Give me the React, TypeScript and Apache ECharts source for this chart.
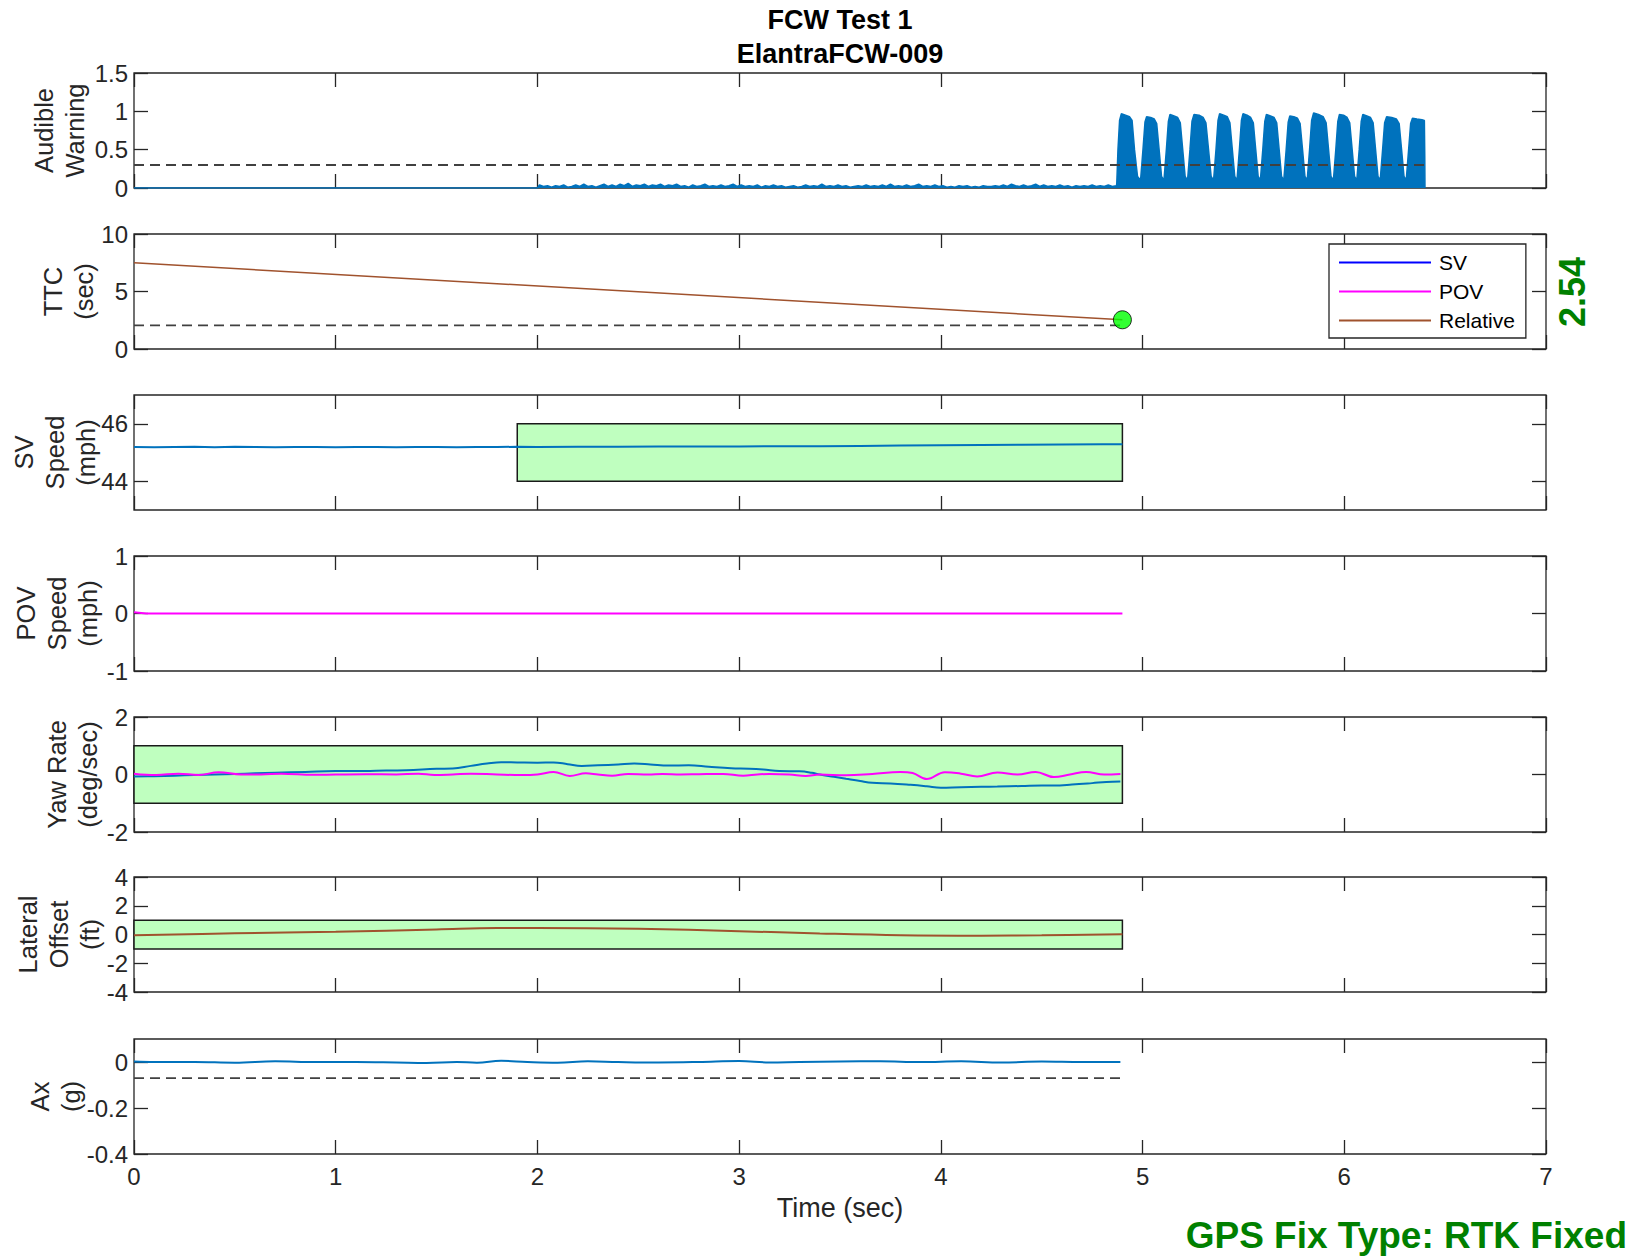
import React, { useEffect, useRef } from "react";
import * as echarts from "echarts";

// ---------------- DATA ----------------
const timeTicks = [0, 1, 2, 3, 4, 5, 6, 7];

// Audible warning (envelope of the recorded signal)
const awQuiet: number[][] = [[0, 0], [1.99, 0]];
const awNoise: number[][] = [
  [2.0, 0.0], [2.01, 0.04], [2.03, 0.02], [2.05, 0.03], [2.07, 0.01], [2.09, 0.03], [2.11, 0.02], [2.13, 0.04],
  [2.15, 0.01], [2.17, 0.02], [2.19, 0.04], [2.21, 0.02], [2.23, 0.05], [2.25, 0.02], [2.27, 0.03], [2.29, 0.01],
  [2.31, 0.03], [2.33, 0.05], [2.35, 0.02], [2.37, 0.04], [2.39, 0.02], [2.41, 0.05], [2.43, 0.03], [2.45, 0.06],
  [2.47, 0.02], [2.49, 0.04], [2.51, 0.03], [2.53, 0.05], [2.55, 0.02], [2.57, 0.04], [2.59, 0.03], [2.61, 0.05],
  [2.63, 0.02], [2.65, 0.04], [2.67, 0.03], [2.69, 0.05], [2.71, 0.02], [2.73, 0.03], [2.75, 0.01], [2.77, 0.04],
  [2.79, 0.02], [2.81, 0.03], [2.83, 0.05], [2.85, 0.02], [2.87, 0.03], [2.89, 0.02], [2.91, 0.04], [2.93, 0.02],
  [2.95, 0.03], [2.97, 0.05], [2.99, 0.02], [3.01, 0.04], [3.03, 0.02], [3.05, 0.03], [3.07, 0.02], [3.09, 0.04],
  [3.11, 0.01], [3.13, 0.03], [3.15, 0.02], [3.17, 0.04], [3.19, 0.02], [3.21, 0.03], [3.23, 0.01], [3.25, 0.02],
  [3.27, 0.03], [3.29, 0.01], [3.31, 0.02], [3.33, 0.04], [3.35, 0.02], [3.37, 0.03], [3.39, 0.02], [3.41, 0.05],
  [3.43, 0.02], [3.45, 0.03], [3.47, 0.02], [3.49, 0.04], [3.51, 0.02], [3.53, 0.03], [3.55, 0.01], [3.57, 0.02],
  [3.59, 0.03], [3.61, 0.02], [3.63, 0.04], [3.65, 0.02], [3.67, 0.03], [3.69, 0.02], [3.71, 0.04], [3.73, 0.02],
  [3.75, 0.05], [3.77, 0.02], [3.79, 0.03], [3.81, 0.02], [3.83, 0.04], [3.85, 0.02], [3.87, 0.03], [3.89, 0.05],
  [3.91, 0.02], [3.93, 0.03], [3.95, 0.02], [3.97, 0.04], [3.99, 0.02], [4.01, 0.03], [4.03, 0.01], [4.05, 0.02],
  [4.07, 0.01], [4.09, 0.03], [4.11, 0.02], [4.13, 0.03], [4.15, 0.01], [4.17, 0.02], [4.19, 0.01], [4.21, 0.03],
  [4.23, 0.02], [4.25, 0.02], [4.27, 0.03], [4.29, 0.02], [4.31, 0.04], [4.33, 0.02], [4.35, 0.05], [4.37, 0.03],
  [4.39, 0.02], [4.41, 0.04], [4.43, 0.02], [4.45, 0.03], [4.47, 0.05], [4.49, 0.02], [4.51, 0.04], [4.53, 0.02],
  [4.55, 0.03], [4.57, 0.02], [4.59, 0.04], [4.61, 0.02], [4.63, 0.03], [4.65, 0.01], [4.67, 0.03], [4.69, 0.02],
  [4.71, 0.03], [4.73, 0.02], [4.75, 0.04], [4.77, 0.02], [4.79, 0.03], [4.81, 0.02], [4.83, 0.04], [4.85, 0.02],
  [4.87, 0.03],
];
const awPulses: number[][] = [
  [4.872, 0.05], [4.878, 0.5], [4.886, 0.88], [4.895, 0.97], [4.915, 0.95], [4.935, 0.93], [4.948, 0.88], [4.96, 0.5], [4.975, 0.15], [4.99, 0.1],
  [5.002, 0.5], [5.012, 0.86], [5.02, 0.93], [5.04, 0.92], [5.058, 0.9], [5.07, 0.84], [5.082, 0.5], [5.094, 0.15], [5.106, 0.1],
  [5.118, 0.5], [5.128, 0.87], [5.136, 0.96], [5.156, 0.94], [5.174, 0.92], [5.187, 0.85], [5.199, 0.5], [5.211, 0.15], [5.223, 0.1],
  [5.235, 0.5], [5.245, 0.87], [5.255, 0.96], [5.28, 0.95], [5.3, 0.92], [5.314, 0.85], [5.327, 0.5], [5.34, 0.15], [5.352, 0.1],
  [5.364, 0.5], [5.374, 0.88], [5.382, 0.97], [5.402, 0.95], [5.42, 0.93], [5.433, 0.85], [5.445, 0.5], [5.457, 0.15], [5.468, 0.1],
  [5.48, 0.5], [5.49, 0.88], [5.498, 0.97], [5.518, 0.95], [5.536, 0.92], [5.549, 0.85], [5.561, 0.5], [5.573, 0.15], [5.584, 0.1],
  [5.596, 0.5], [5.606, 0.87], [5.614, 0.96], [5.634, 0.94], [5.652, 0.92], [5.665, 0.85], [5.677, 0.5], [5.689, 0.15], [5.7, 0.1],
  [5.712, 0.5], [5.722, 0.86], [5.73, 0.94], [5.75, 0.93], [5.768, 0.91], [5.781, 0.84], [5.793, 0.5], [5.805, 0.15], [5.816, 0.1],
  [5.828, 0.5], [5.838, 0.88], [5.848, 0.98], [5.872, 0.96], [5.895, 0.93], [5.91, 0.85], [5.922, 0.5], [5.934, 0.15], [5.946, 0.1],
  [5.958, 0.5], [5.968, 0.87], [5.976, 0.96], [5.996, 0.95], [6.014, 0.92], [6.027, 0.85], [6.039, 0.5], [6.051, 0.15], [6.062, 0.1],
  [6.074, 0.5], [6.084, 0.87], [6.092, 0.96], [6.112, 0.94], [6.13, 0.92], [6.143, 0.85], [6.155, 0.5], [6.167, 0.15], [6.178, 0.1],
  [6.19, 0.5], [6.2, 0.85], [6.21, 0.93], [6.235, 0.92], [6.258, 0.9], [6.272, 0.84], [6.284, 0.5], [6.296, 0.15], [6.307, 0.1],
  [6.319, 0.5], [6.329, 0.84], [6.338, 0.91], [6.36, 0.9], [6.385, 0.89], [6.397, 0.88], [6.399, 0.4], [6.4, 0],
];
const awThreshold: number[][] = [[0, 0.3], [6.4, 0.3]];

// TTC
const ttcRelative: number[][] = [[0, 7.5], [4.9, 2.54]];
const ttcThreshold: number[][] = [[0, 2.06], [4.9, 2.06]];
const ttcAtWarning: number[][] = [[4.9, 2.54]];
const ttcText = "2.54";
const legendNames = ["SV", "POV", "Relative"];

// SV speed (mph)
const svSpeed: number[][] = [
  [0, 45.19], [0.1, 45.18], [0.2, 45.19], [0.3, 45.2], [0.4, 45.18], [0.5, 45.2], [0.6, 45.19], [0.7, 45.18],
  [0.8, 45.19], [0.9, 45.19], [1.0, 45.18], [1.1, 45.19], [1.2, 45.19], [1.3, 45.18], [1.4, 45.19], [1.5, 45.19],
  [1.6, 45.18], [1.7, 45.19], [1.8, 45.19], [1.9, 45.2], [2.0, 45.19], [2.2, 45.2], [2.4, 45.2], [2.6, 45.21],
  [2.8, 45.21], [3.0, 45.21], [3.2, 45.22], [3.4, 45.22], [3.6, 45.23], [3.8, 45.24], [4.0, 45.25], [4.2, 45.26],
  [4.4, 45.27], [4.6, 45.28], [4.8, 45.29], [4.9, 45.29],
];
const svSpeedBox = [[1.9, 44], [4.9, 46]];

// POV speed (mph)
const povSpeed: number[][] = [[0, 0.02], [0.06, 0], [4.9, 0]];

// Yaw rate (deg/sec)
const yawSV: number[][] = [
  [0, -0.07], [0.1, -0.06], [0.2, -0.04], [0.3, -0.02], [0.4, 0.0], [0.5, 0.02], [0.6, 0.04], [0.7, 0.06],
  [0.85, 0.09], [1.0, 0.12], [1.1, 0.12], [1.2, 0.13], [1.35, 0.15], [1.5, 0.2], [1.58, 0.21], [1.67, 0.3],
  [1.75, 0.38], [1.82, 0.43], [1.9, 0.42], [2.0, 0.41], [2.08, 0.42], [2.15, 0.36], [2.22, 0.3], [2.3, 0.32],
  [2.4, 0.35], [2.48, 0.38], [2.56, 0.35], [2.65, 0.31], [2.75, 0.32], [2.85, 0.27], [2.96, 0.22], [3.05, 0.2],
  [3.12, 0.17], [3.2, 0.12], [3.3, 0.11], [3.36, 0.06], [3.4, 0.0], [3.47, -0.08], [3.53, -0.15], [3.6, -0.23],
  [3.66, -0.29], [3.75, -0.31], [3.85, -0.36], [3.93, -0.41], [4.0, -0.46], [4.1, -0.44], [4.2, -0.43],
  [4.28, -0.42], [4.4, -0.4], [4.5, -0.38], [4.56, -0.38], [4.65, -0.35], [4.75, -0.3], [4.82, -0.26], [4.89, -0.24],
];
const yawPOV: number[][] = [
  [0, 0.03], [0.11, -0.02], [0.22, 0.03], [0.32, -0.02], [0.42, 0.08], [0.53, 0.0], [0.63, 0.0], [0.73, 0.03],
  [0.89, -0.01], [1.0, 0.0], [1.15, 0.01], [1.3, 0.0], [1.41, 0.03], [1.49, -0.02], [1.58, 0.0], [1.67, 0.03],
  [1.8, 0.0], [1.92, -0.02], [2.0, 0.0], [2.08, 0.09], [2.16, -0.05], [2.24, 0.04], [2.3, 0.0], [2.37, -0.04],
  [2.45, 0.02], [2.55, 0.0], [2.62, 0.02], [2.71, 0.0], [2.8, 0.01], [2.92, 0.02], [3.02, -0.04], [3.09, 0.0],
  [3.15, 0.02], [3.25, 0.0], [3.33, -0.05], [3.4, 0.0], [3.53, -0.03], [3.66, 0.02], [3.8, 0.09], [3.86, 0.05],
  [3.93, -0.16], [4.02, 0.08], [4.1, 0.03], [4.18, -0.07], [4.28, 0.07], [4.38, 0.0], [4.47, 0.09], [4.56, -0.09],
  [4.64, 0.0], [4.72, 0.09], [4.81, 0.0], [4.89, 0.02],
];
const yawBox = [[0, -1], [4.9, 1]];

// Lateral offset (ft)
const lateralOffset: number[][] = [
  [0, -0.05], [0.5, 0.08], [1.0, 0.19], [1.5, 0.35], [1.8, 0.45], [2.0, 0.46], [2.5, 0.4], [3.0, 0.23],
  [3.4, 0.07], [3.8, -0.05], [4.2, -0.08], [4.5, -0.06], [4.9, 0.02],
];
const lateralBox = [[0, -1], [4.9, 1]];

// Ax (g)
const axData: number[][] = [
  [0, 0.002], [0.1, 0.0], [0.3, 0.0], [0.5, -0.003], [0.7, 0.003], [0.9, 0.0], [1.1, 0.0], [1.3, -0.002],
  [1.45, -0.004], [1.6, 0.0], [1.7, -0.003], [1.82, 0.005], [1.95, 0.0], [2.1, -0.003], [2.25, 0.003], [2.4, 0.0],
  [2.6, -0.002], [2.8, 0.0], [3.0, 0.004], [3.15, -0.002], [3.3, 0.0], [3.5, 0.002], [3.7, 0.003], [3.9, 0.0],
  [4.1, 0.003], [4.3, -0.002], [4.5, 0.002], [4.7, 0.0], [4.89, 0.0],
];
const axThreshold: number[][] = [[0, -0.07], [4.89, -0.07]];

// Y-axis definitions
const yNames = ["Audible\nWarning", "TTC\n(sec)", "SV\nSpeed\n(mph)", "POV\nSpeed\n(mph)", "Yaw Rate\n(deg/sec)", "Lateral\nOffset\n(ft)", "Ax\n(g)"];
const yMins = [0, 0, 43, -1, -2, -4, -0.4];
const yMaxs = [1.5, 10, 47, 1, 2, 4, 0.1];
const yTicks = [[0, 0.5, 1, 1.5], [0, 5, 10], [44, 46], [-1, 0, 1], [-2, 0, 2], [-4, -2, 0, 2, 4], [-0.4, -0.2, 0]];

const titleText = "FCW Test 1\nElantraFCW-009";
const xName = "Time (sec)";
const gpsText = "GPS Fix Type: RTK Fixed";

// ---------------- LAYOUT / STYLE ----------------
const W = 1637;
const H = 1259;
const gridTops = [73, 234, 395, 556, 717, 877, 1039];
const gridLeft = 134;
const gridWidth = 1412;
const gridHeight = 115;
const nameGaps = [44, 35, 33, 31, 31, 29, 48];
const FONT = '"Liberation Sans", Arial, Helvetica, sans-serif';
const AX = "#262626";
const BLUE = "#0072BD";
const MAGENTA = "#ff00ff";
const BROWN = "#a0522d";
const BOXFILL = "#bfffbf";
const DASH = "#404040";

function buildOption() {
  const grid: any[] = [];
  const xAxis: any[] = [];
  const yAxis: any[] = [];
  const tick = { show: true, inside: true, length: 14, lineStyle: { color: AX, width: 1.3 } };
  const noLine = { show: false, onZero: false };
  for (let i = 0; i < 7; i++) {
    grid.push({
      left: gridLeft, top: gridTops[i], width: gridWidth, height: gridHeight, show: true,
      borderColor: AX, borderWidth: 1.3, backgroundColor: "rgba(0,0,0,0)",
      containLabel: false, outerBoundsMode: "none",
    });
    const last = i === 6;
    xAxis.push({
      type: "value", gridIndex: i, min: timeTicks[0], max: timeTicks[timeTicks.length - 1], interval: 1, position: "bottom",
      axisLine: noLine, axisTick: tick, splitLine: { show: false },
      axisLabel: { show: last, margin: 10, color: AX, fontSize: 24, fontFamily: FONT },
      name: last ? xName : "", nameLocation: "middle", nameGap: 40, nameMoveOverlap: false,
      nameTextStyle: { color: AX, fontSize: 27, fontFamily: FONT },
    });
    xAxis.push({
      type: "value", gridIndex: i, min: timeTicks[0], max: timeTicks[timeTicks.length - 1], interval: 1, position: "top",
      axisLine: noLine, axisTick: tick, splitLine: { show: false }, axisLabel: { show: false },
    });
    yAxis.push({
      type: "value", gridIndex: i, min: yMins[i], max: yMaxs[i], position: "left",
      axisLine: noLine, splitLine: { show: false },
      axisTick: { ...tick, customValues: yTicks[i] },
      axisLabel: { customValues: yTicks[i], margin: 6, color: AX, fontSize: 24, fontFamily: FONT, formatter: (v: number) => String(v) },
      name: yNames[i], nameLocation: "middle", nameRotate: 90, nameGap: nameGaps[i], nameMoveOverlap: false,
      nameTextStyle: { color: AX, fontSize: 25.5, lineHeight: 31, fontFamily: FONT, align: "center" },
    });
    yAxis.push({
      type: "value", gridIndex: i, min: yMins[i], max: yMaxs[i], position: "right",
      axisLine: noLine, splitLine: { show: false },
      axisTick: { ...tick, customValues: yTicks[i] },
      axisLabel: { show: false },
    });
  }

  const ax = (i: number) => ({ xAxisIndex: 2 * i, yAxisIndex: 2 * i });
  const line = (name: string, i: number, data: number[][], color: string, extra: any = {}) => ({
    type: "line", name, ...ax(i), data, showSymbol: false, symbol: "none", color,
    lineStyle: { color, width: 2 }, silent: true, z: 3, ...extra,
  });
  const dashed = (name: string, i: number, data: number[][]) => ({
    type: "line", name, ...ax(i), data, showSymbol: false, symbol: "none", color: DASH,
    lineStyle: { color: DASH, width: 1.8, type: [10, 6] }, silent: true, z: 4,
  });
  const box = (b: number[][]) => ({
    silent: true,
    label: { show: false },
    itemStyle: { color: BOXFILL, borderColor: "#1a1a1a", borderWidth: 1.5 },
    data: [[{ coord: b[0] }, { coord: b[1] }]],
  });

  const audible = [...awQuiet, ...awNoise, ...awPulses];

  const series: any[] = [
    line("Audible Warning", 0, audible, BLUE, { lineStyle: { color: BLUE, width: 1.5 }, areaStyle: { color: BLUE, opacity: 1 } }),
    dashed("Warning Threshold", 0, awThreshold),
    line(legendNames[0], 1, [], "#0000ff"),
    line(legendNames[1], 1, [], MAGENTA),
    line(legendNames[2], 1, ttcRelative, BROWN, { lineStyle: { color: BROWN, width: 1.5 } }),
    dashed("TTC Threshold", 1, ttcThreshold),
    {
      type: "scatter", name: "TTC at Warning", ...ax(1), data: ttcAtWarning, symbol: "circle", symbolSize: 18,
      itemStyle: { color: "#00ff00", borderColor: "#000", borderWidth: 1 }, z: 6, silent: true,
    },
    line("SV Speed", 2, svSpeed, BLUE, { markArea: box(svSpeedBox) }),
    line("POV Speed", 3, povSpeed, MAGENTA),
    line("SV Yaw Rate", 4, yawSV, BLUE, { smooth: 0.4, markArea: box(yawBox) }),
    line("POV Yaw Rate", 4, yawPOV, MAGENTA, { smooth: 0.4 }),
    line("Lateral Offset", 5, lateralOffset, BROWN, { smooth: 0.4, markArea: box(lateralBox) }),
    line("Ax", 6, axData, BLUE, { smooth: 0.4 }),
    dashed("Ax Threshold", 6, axThreshold),
  ];

  return {
    animation: false,
    backgroundColor: "#ffffff",
    title: {
      text: titleText, left: 840, top: 3, textAlign: "center", padding: 0,
      textStyle: { color: "#000", fontSize: 27, fontWeight: "bold", lineHeight: 34, fontFamily: FONT },
    },
    legend: {
      data: legendNames, orient: "vertical", left: 1329, top: 244,
      padding: [8, 11, 7, 10], itemGap: 8, itemWidth: 92, itemHeight: 2, icon: "rect",
      borderColor: AX, borderWidth: 1.3, backgroundColor: "#fff",
      textStyle: { color: "#000", fontSize: 21, fontFamily: FONT, padding: [0, 0, 0, 3] },
      selectedMode: false,
    },
    grid, xAxis, yAxis, series,
    graphic: [
      {
        type: "text", x: 1572, y: 292, rotation: Math.PI / 2, silent: true,
        style: { text: ttcText, fill: "#008000", fontSize: 36, fontWeight: "bold", fontFamily: FONT, align: "center", verticalAlign: "middle" },
      },
      {
        type: "text", x: 1627, y: 1235, silent: true,
        style: { text: gpsText, fill: "#008000", fontSize: 37, fontWeight: "bold", fontFamily: FONT, align: "right", verticalAlign: "middle" },
      },
    ],
  };
}

export default function App() {
  const ref = useRef<HTMLDivElement>(null);
  useEffect(() => {
    document.body.style.margin = "0";
    if (!ref.current) return;
    const chart = echarts.init(ref.current, null, { renderer: "svg" });
    chart.setOption(buildOption() as any);
    return () => chart.dispose();
  }, []);
  return <div ref={ref} style={{ width: W, height: H, background: "#fff" }} />;
}
